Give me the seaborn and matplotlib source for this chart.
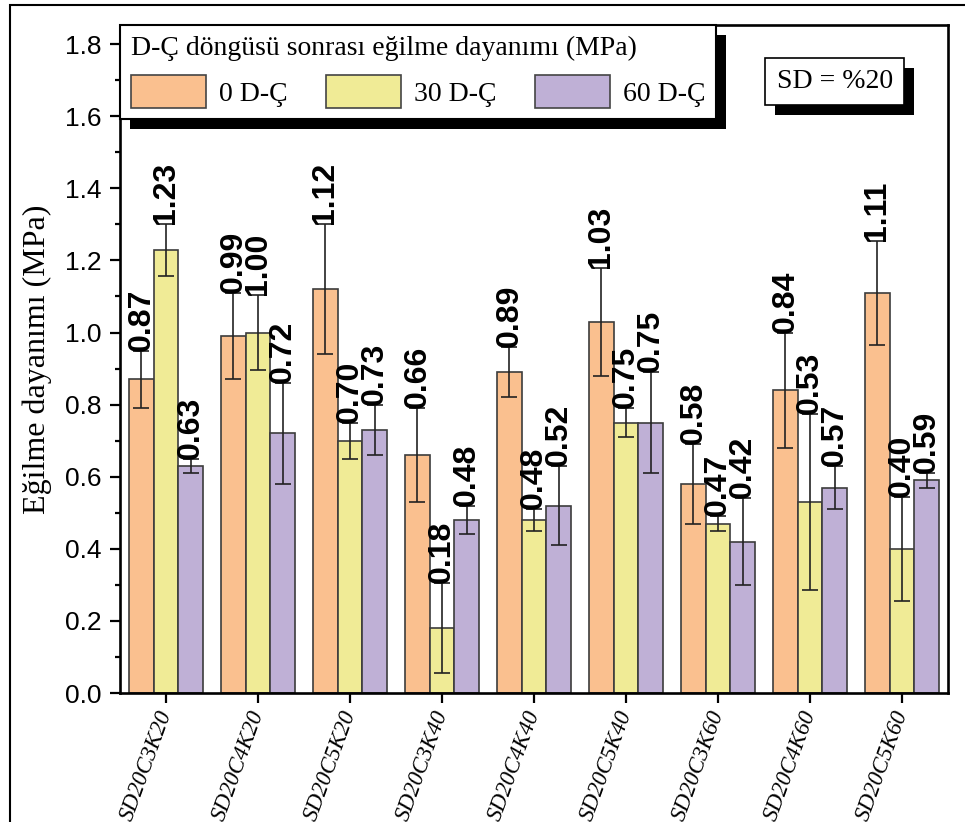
"""Flexural strength after wet-dry cycles, SD = %20."""

import matplotlib.pyplot as plt
import pandas as pd
import seaborn as sns
from matplotlib.patches import Patch, Rectangle
from matplotlib.ticker import FormatStrFormatter, MultipleLocator

SAMPLES = [
    "SD20C3K20", "SD20C4K20", "SD20C5K20",
    "SD20C3K40", "SD20C4K40", "SD20C5K40",
    "SD20C3K60", "SD20C4K60", "SD20C5K60",
]
CYCLES = ["0 D-Ç", "30 D-Ç", "60 D-Ç"]

VAL_0 = [0.87, 0.99, 1.12, 0.66, 0.89, 1.03, 0.58, 0.84, 1.11]
VAL_30 = [1.23, 1.00, 0.70, 0.18, 0.48, 0.75, 0.47, 0.53, 0.40]
VAL_60 = [0.63, 0.72, 0.73, 0.48, 0.52, 0.75, 0.42, 0.57, 0.59]

ERR_0 = [0.08, 0.12, 0.18, 0.13, 0.07, 0.15, 0.11, 0.16, 0.145]
ERR_30 = [0.072, 0.105, 0.05, 0.125, 0.03, 0.04, 0.02, 0.245, 0.145]
ERR_60 = [0.02, 0.14, 0.07, 0.04, 0.11, 0.14, 0.12, 0.06, 0.02]

COLORS = ["#FAC08F", "#F0EB96", "#BFB0D6"]
SERIF = "Liberation Serif"
SANS = "Liberation Sans"

sns.set_theme(style="ticks")
plt.rcParams["font.family"] = [SANS, "DejaVu Sans"]
plt.rcParams["text.color"] = "black"
plt.rcParams["axes.labelcolor"] = "black"
plt.rcParams["xtick.color"] = "black"
plt.rcParams["ytick.color"] = "black"

rows = []
for cyc, vals in zip(CYCLES, [VAL_0, VAL_30, VAL_60]):
    for s, v in zip(SAMPLES, vals):
        rows.append({"sample": s, "cycle": cyc, "value": v})
df = pd.DataFrame(rows)

fig = plt.figure(figsize=(9.65, 8.22), dpi=100)
ax = fig.add_axes([120 / 965, 1 - 693 / 822, 828 / 965, 668 / 822])

sns.barplot(
    data=df, x="sample", y="value", hue="cycle",
    order=SAMPLES, hue_order=CYCLES, palette=COLORS, saturation=1,
    edgecolor="#3c3c3c", linewidth=1.2, errorbar=None,
    legend=False, ax=ax, zorder=2,
)

# error bars and value labels on top of each bar
for cont, errs in zip(ax.containers, [ERR_0, ERR_30, ERR_60]):
    xs = [b.get_x() + b.get_width() / 2 for b in cont]
    hs = [b.get_height() for b in cont]
    ax.errorbar(xs, hs, yerr=errs, fmt="none", ecolor="#222222",
                elinewidth=1.2, capsize=5.5, capthick=1.2, zorder=3)
    for x, h, e in zip(xs, hs, errs):
        ax.text(x, h + e, f"{h:.2f}", rotation=90, ha="center", va="bottom",
                fontsize=23, fontweight="bold", family=SANS, color="black",
                zorder=4)

ax.set_xlim(-0.5, 8.5)
ax.set_ylim(0, 1.853)
ax.yaxis.set_major_locator(MultipleLocator(0.2))
ax.yaxis.set_minor_locator(MultipleLocator(0.1))
ax.yaxis.set_major_formatter(FormatStrFormatter("%.1f"))
ax.tick_params(axis="both", which="major", direction="out", length=7,
               width=1.6, color="black", pad=6)
ax.tick_params(axis="y", which="minor", direction="out", length=3.5,
               width=1.6, color="black")
ax.tick_params(axis="y", labelsize=19)
for lab in ax.get_yticklabels():
    lab.set_family(SANS)
ax.set_xticks(range(len(SAMPLES)))
ax.set_xticklabels(SAMPLES, rotation=70, ha="right", va="center",
                   rotation_mode="anchor", fontsize=16.5, family=SERIF,
                   style="italic")
for sp in ax.spines.values():
    sp.set_visible(True)
    sp.set_linewidth(1.9)
    sp.set_color("black")

ax.set_xlabel("")
ax.set_ylabel("Eğilme dayanımı (MPa)", family=SERIF, fontsize=23)
ax.yaxis.set_label_coords(-0.082, 0.5)

handles = [Patch(facecolor=c, edgecolor="#444444", linewidth=1.2) for c in COLORS]
leg = ax.legend(
    handles, CYCLES, title="D-Ç döngüsü sonrası eğilme dayanımı (MPa)",
    ncol=3, loc="upper left", bbox_to_anchor=(0, 1), borderaxespad=0,
    frameon=True, fancybox=False, framealpha=1, edgecolor="black",
    prop={"family": SERIF, "size": 20},
    title_fontproperties={"family": SERIF, "size": 20},
    handlelength=2.7, handleheight=1.45, columnspacing=1.4,
    handletextpad=0.45, borderpad=0.4, alignment="left",
)
leg.get_frame().set_linewidth(1.5)
leg.set_zorder(6)

sd = ax.text(0.863, 0.916, "SD = %20", transform=ax.transAxes,
             ha="center", va="center", family=SERIF, fontsize=20, zorder=6,
             bbox=dict(boxstyle="square,pad=0.4", fc="white", ec="black",
                       lw=1.2))

# black drop shadows behind legend and note box
fig.canvas.draw()
inv = ax.transAxes.inverted()
for bb in [leg.get_window_extent(), sd.get_bbox_patch().get_window_extent()]:
    (x0, y0), (x1, y1) = inv.transform([(bb.x0 + 10, bb.y0 - 10),
                                        (bb.x1 + 10, bb.y1 - 10)])
    ax.add_patch(Rectangle((x0, y0), x1 - x0, y1 - y0, transform=ax.transAxes,
                           facecolor="black", edgecolor="none",
                           clip_on=False, zorder=5.5))

# outer frame of the figure panel
fig.add_artist(Rectangle((10 / 965, -0.05), 1.1, 0.05 + 1 - 5 / 822,
                         transform=fig.transFigure, fill=False,
                         edgecolor="black", linewidth=1.5))

fig.savefig("out.png", dpi=100)
plt.close()
